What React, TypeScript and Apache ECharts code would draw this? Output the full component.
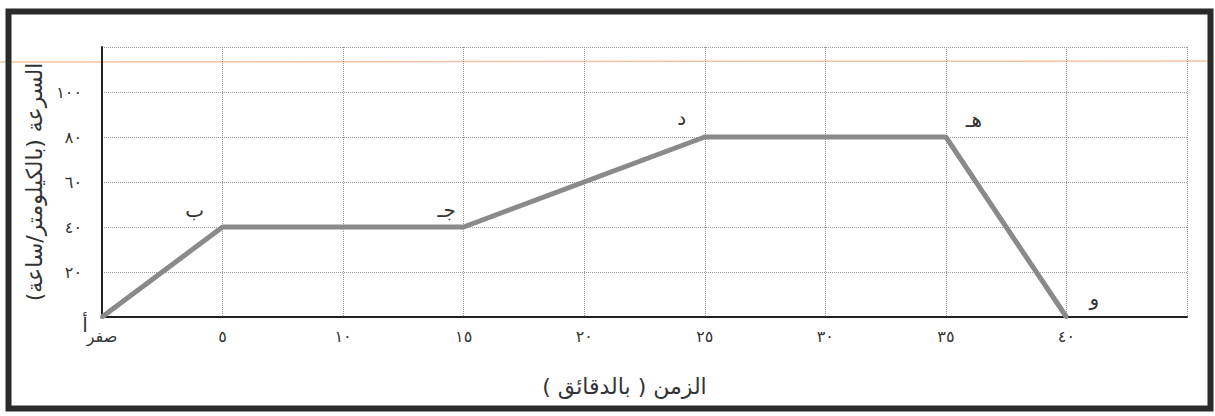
import React, { useEffect, useRef } from "react";
import * as echarts from "echarts";

// Data: time (minutes) vs speed (km/h)
const times = [0, 5, 15, 25, 35, 40];
const speeds = [0, 40, 40, 80, 80, 0];
const pointNames = ["أ", "ب", "جـ", "د", "هـ", "و"];

const xTickValues = [0, 5, 10, 15, 20, 25, 30, 35, 40];
const xTickTexts = ["صفر", "٥", "١٠", "١٥", "٢٠", "٢٥", "٣٠", "٣٥", "٤٠"];
const yTickValues = [20, 40, 60, 80, 100];
const yTickTexts = ["٢٠", "٤٠", "٦٠", "٨٠", "١٠٠"];

const xName = "الزمن ( بالدقائق )";
const yName = "السرعة (بالكيلومتر/ساعة)";

export default function App() {
  const ref = useRef<HTMLDivElement>(null);

  useEffect(() => {
    if (!ref.current) return;
    const chart = echarts.init(ref.current, null, { renderer: "svg" });
    const font = "DejaVu Sans";
    const labelOffsets: [number, number][] = [
      [-17, 25],
      [-28, 0],
      [-17, 0],
      [-23, -2],
      [28, 0],
      [28, -2],
    ];
    const data = times.map((t, i) => ({
      value: [t, speeds[i]],
      label: {
        show: true,
        formatter: pointNames[i],
        position: "top",
        offset: labelOffsets[i],
      },
    }));

    chart.setOption({
      animation: false,
      backgroundColor: "#ffffff",
      textStyle: { fontFamily: font },
      grid: { left: 102, right: 28, top: 47, bottom: 99, containLabel: false },
      xAxis: {
        type: "value",
        min: 0,
        max: 45,
        interval: 5,
        name: xName,
        nameLocation: "middle",
        nameGap: 58,
        nameTextStyle: { fontSize: 22, color: "#333", fontFamily: font, padding: [0, 40, 0, 0] },
        axisLine: { show: true, lineStyle: { color: "#222", width: 2 } },
        axisTick: { show: false },
        axisLabel: {
          margin: 11,
          fontSize: 16,
          color: "#333",
          fontFamily: font,
          formatter: (v: number) => {
            const i = xTickValues.indexOf(v);
            return i >= 0 ? xTickTexts[i] : "";
          },
        },
        splitLine: { show: true, lineStyle: { type: "dotted", color: "#9a9a9a", width: 1 } },
      },
      yAxis: {
        type: "value",
        min: 0,
        max: 120,
        interval: 20,
        name: yName,
        nameLocation: "middle",
        nameGap: 55,
        nameRotate: 90,
        nameTextStyle: { fontSize: 22, color: "#333", fontFamily: font },
        axisLine: { show: true, lineStyle: { color: "#222", width: 2 } },
        axisTick: { show: false },
        axisLabel: {
          margin: 20,
          fontSize: 16,
          color: "#333",
          fontFamily: font,
          formatter: (v: number) => {
            const i = yTickValues.indexOf(v);
            return i >= 0 ? yTickTexts[i] : "";
          },
        },
        splitLine: { show: true, lineStyle: { type: "dotted", color: "#9a9a9a", width: 1 } },
      },
      series: [
        {
          type: "line",
          data,
          symbol: "circle",
          symbolSize: 4,
          itemStyle: { color: "#8a8a8a" },
          lineStyle: { color: "#8a8a8a", width: 5 },
          label: { fontSize: 20, color: "#333", fontFamily: font },
        },
      ],
      graphic: [
        {
          type: "line",
          shape: { x1: 0, y1: 62, x2: 1208, y2: 61 },
          style: { stroke: "#f2b48a", lineWidth: 1.5, opacity: 0.8 },
          silent: true,
        },
        {
          type: "rect",
          shape: { x: 8.5, y: 11.5, width: 1202, height: 397 },
          style: { fill: "none", stroke: "#2b2b2b", lineWidth: 6 },
          silent: true,
        },
      ],
    });
    return () => chart.dispose();
  }, []);

  return (
    <div
      ref={ref}
      style={{ position: "fixed", left: 0, top: 0, width: 1215, height: 416, background: "#fff" }}
    />
  );
}
